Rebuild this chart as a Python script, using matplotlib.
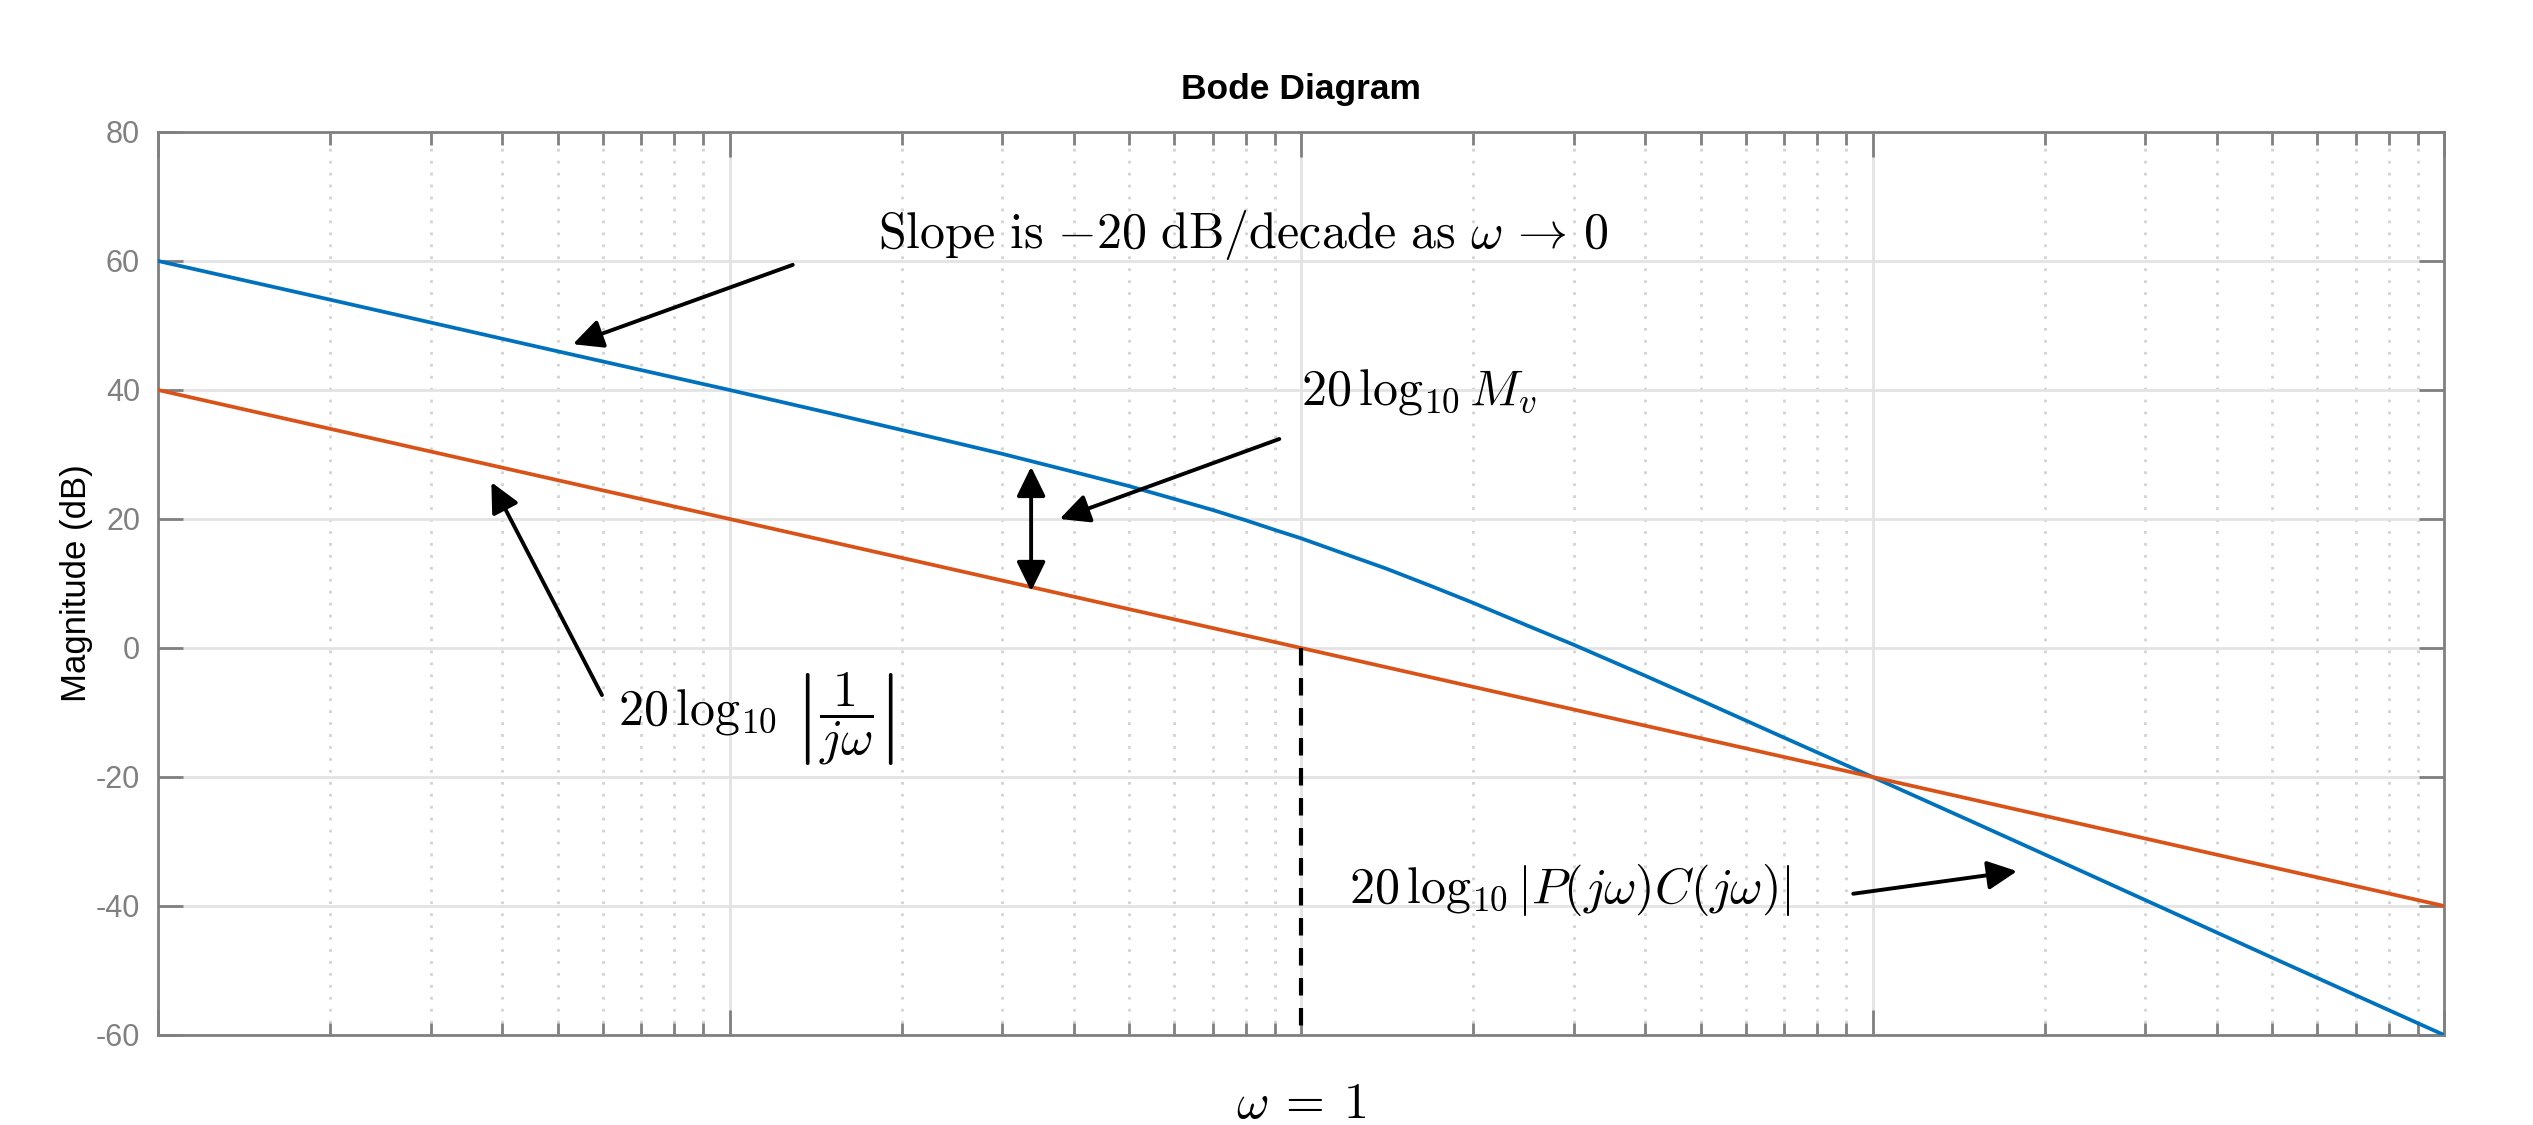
import matplotlib
matplotlib.use('Agg')
import matplotlib.pyplot as plt
import matplotlib.ticker as mtick
import matplotlib.transforms as mtrans
import numpy as np

# magnitude of the loop gain
w_loop = [0.01, 0.02, 0.05, 0.1, 0.15, 0.2, 0.3, 0.4, 0.5, 0.6, 0.7, 0.8, 0.9, 1.0, 1.2, 1.4,
          1.7, 2.0, 2.5, 3.0, 4.0, 5.0, 7.0, 10.0, 15.0, 20.0, 50.0, 100.0]
mag_loop = [60.0, 54.0, 46.0, 40.0, 36.4, 33.8, 30.1, 27.3, 25.1, 23.1, 21.4, 19.8, 18.3, 17.0, 14.5, 12.4,
            9.5, 7.0, 3.4, 0.5, -4.3, -8.1, -13.9, -20.0, -27.0, -32.0, -48.0, -60.0]

# 1/jw reference line
w_int = [0.01, 1.0, 100.0]
mag_int = [40.0, 0.0, -40.0]

yticks = [-60, -40, -20, 0, 20, 40, 60, 80]

plt.rcParams['font.family'] = ['Liberation Sans', 'DejaVu Sans']
plt.rcParams['mathtext.fontset'] = 'cm'
plt.rcParams['axes.unicode_minus'] = False

grey = '#808080'
fig = plt.figure(figsize=(25.33, 11.25), dpi=100)
ax = fig.add_axes([0.0624, 0.08, 0.9025, 0.8027])

ax.plot(w_loop, mag_loop, color='#0072BD', lw=2.7, zorder=3)
ax.plot(w_int, mag_int, color='#D95319', lw=2.7, zorder=3)
ax.plot([1, 1], [0, -60], color='k', lw=3.0, linestyle=(0, (4.2, 3.0)), zorder=4)

ax.set_xscale('log')
ax.set_xlim(0.01, 100)
ax.set_ylim(-60, 80)
ax.set_yticks(yticks)
ax.xaxis.set_major_locator(mtick.LogLocator(base=10, numticks=10))
ax.xaxis.set_minor_locator(mtick.LogLocator(base=10, subs=np.arange(2, 10), numticks=10))
ax.xaxis.set_major_formatter(mtick.NullFormatter())
ax.xaxis.set_minor_formatter(mtick.NullFormatter())

ax.grid(True, which='major', color='#e3e3e3', lw=2.0, zorder=0)
ax.grid(True, which='minor', axis='x', color='#d3d3d3', lw=2.0, linestyle=(0, (1.0, 3.3)), zorder=0)
ax.set_axisbelow(True)

for s in ax.spines.values():
    s.set_color(grey)
    s.set_linewidth(2.0)
ax.tick_params(which='major', direction='in', length=18, width=2.0, color=grey,
               labelcolor=grey, labelsize=22, pad=13, top=True, right=True)
ax.tick_params(which='minor', direction='in', length=9, width=2.0, color=grey, top=True, right=True)
ax.tick_params(axis='y', which='minor', left=False, right=False)

ax.set_title('Bode Diagram', fontsize=25.5, fontweight='bold', pad=24)
ax.set_ylabel('Magnitude (dB)', fontsize=25, labelpad=2)

arr = dict(arrowstyle='-|>,head_length=0.45,head_width=0.22', color='k', lw=2.8,
           mutation_scale=40, shrinkA=0, shrinkB=0)
darr = dict(arr, arrowstyle='<|-|>,head_length=0.45,head_width=0.22')

ax.annotate('', xy=(0.0532, 47.1), xytext=(0.129, 59.4), arrowprops=arr)
ax.annotate('', xy=(0.378, 20.0), xytext=(0.916, 32.4), arrowprops=arr)
ax.annotate('', xy=(0.0383, 25.7), xytext=(0.0598, -7.3), arrowprops=arr)
ax.annotate('', xy=(17.9, -34.6), xytext=(9.25, -38.1), arrowprops=arr)
ax.annotate('', xy=(0.337, 8.8), xytext=(0.337, 28.1), arrowprops=darr)

fs = 36
ax.text(0.1815, 62.0, r'$\mathrm{Slope\ is\ }{-}20\ \mathrm{dB/decade\ as\ }\omega\,\to\,0$',
        fontsize=fs, va='baseline', ha='left')
ax.text(1.0, 37.7, r'$20\,\log_{10}M_v$', fontsize=fs, va='baseline', ha='left')
ax.text(0.0638, -12.1, r'$20\,\log_{10}\,\left|\dfrac{1}{j\omega}\right|$', fontsize=fs, va='baseline', ha='left')
ax.text(1.213, -39.5, r'$20\,\log_{10}|P(j\omega)C(j\omega)|$', fontsize=fs, va='baseline', ha='left')

trans = mtrans.blended_transform_factory(ax.transData, ax.transAxes)
ax.text(1.0, -0.092, r'$\omega\:=\:1$', fontsize=fs, va='baseline', ha='center', transform=trans)

fig.savefig('out.png', dpi=100)
